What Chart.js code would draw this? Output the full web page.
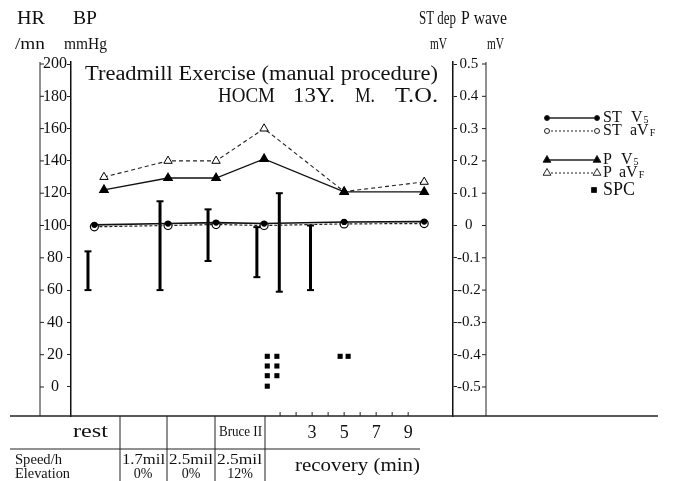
<!DOCTYPE html>
<html>
<head>
<meta charset="utf-8">
<script src="https://cdn.jsdelivr.net/npm/chart.js@4.4.0/dist/chart.umd.min.js"></script>
<style>
  html, body { margin: 0; padding: 0; background: #fff; }
  canvas { display: block; }
</style>
</head>
<body>
<canvas id="c" width="675" height="481" style="width:675px;height:481px"></canvas>
<script>
// time axis in minutes from start of exercise; recovery starts at 9 min
const exerciseEnd = 9;

// ST depression (mV)
const stTime = [-1.6, 3, 6, 9, 14, 19];
const stV5 = [0.002, 0.006, 0.009, 0.006, 0.011, 0.012];
const stAVF = [-0.004, 0, 0.003, 0, 0.005, 0.006];

// P wave (mV)
const pTime = [-1, 3, 6, 9, 14, 19];
const pV5 = [0.11, 0.147, 0.147, 0.206, 0.104, 0.104];
const pAVF = [0.15, 0.2, 0.2, 0.3, 0.105, 0.135];

// blood pressure ranges (mmHg)
const bpTime = [-2, 2.5, 5.5, 8.55, 9.95, 11.9];
const bpLow = [60, 60, 78, 68, 59, 60];
const bpHigh = [84, 115, 110, 99, 120, 100];

// SPC beats, stacked marks
const spcTime = [9.2, 9.2, 9.2, 9.2, 9.8, 9.8, 9.8, 13.75, 14.25];
const spcLevel = [19, 13, 7, 0.5, 19, 13, 7, 19, 19];

const leftTicks = [0, 20, 40, 60, 80, 100, 120, 140, 160, 180, 200];
const rightTicks = [-0.5, -0.4, -0.3, -0.2, -0.1, 0, 0.1, 0.2, 0.3, 0.4, 0.5];
const recMinutes = [1, 2, 3, 4, 5, 6, 7, 8, 9];
const recLabels = [3, 5, 7, 9];

const serif = '"Liberation Serif", "DejaVu Serif", serif';
Chart.defaults.font.family = serif;
Chart.defaults.color = '#111';

const xy = (xs, ys) => xs.map((x, i) => ({ x: x, y: ys[i] }));

const bpData = [];
bpTime.forEach((t, i) => {
  bpData.push({ x: t, y: bpLow[i] }, { x: t, y: bpHigh[i] }, { x: t, y: null });
});

// draws text, optionally squeezed to width w; returns drawn width
function txt(ctx, s, x, y, size, w, align) {
  ctx.save();
  ctx.font = size + 'px ' + serif;
  ctx.textBaseline = 'middle';
  ctx.textAlign = align || 'left';
  const m = ctx.measureText(s).width;
  ctx.translate(x, y);
  if (w) ctx.scale(w / m, 1);
  ctx.fillStyle = '#111';
  ctx.fillText(s, 0, 0);
  ctx.restore();
  return w || m;
}

function line(ctx, x1, y1, x2, y2, w) {
  ctx.beginPath();
  ctx.moveTo(x1, y1);
  ctx.lineTo(x2, y2);
  ctx.lineWidth = w || 1;
  ctx.stroke();
}

function marker(ctx, style, x, y, r, filled) {
  ctx.beginPath();
  if (style === 'circle') ctx.arc(x, y, r, 0, Math.PI * 2);
  else if (style === 'triangle') {
    ctx.moveTo(x, y - r);
    ctx.lineTo(x + r * 0.866, y + r * 0.5);
    ctx.lineTo(x - r * 0.866, y + r * 0.5);
    ctx.closePath();
  } else ctx.rect(x - r, y - r, 2 * r, 2 * r);
  ctx.fillStyle = filled ? '#000' : '#fff';
  ctx.fill();
  ctx.setLineDash([]);
  ctx.lineWidth = 1;
  ctx.stroke();
}

const decor = {
  id: 'decor',
  afterDraw(chart) {
    const ctx = chart.ctx;
    const yl = chart.scales.y, xs = chart.scales.x;
    const top = chart.chartArea.top, bottom = chart.chartArea.bottom;
    ctx.save();
    ctx.strokeStyle = '#222';

    // outer HR axis and P wave axis
    line(ctx, 40, top, 40, bottom, 1);
    line(ctx, 486, top, 486, bottom, 1);
    leftTicks.forEach(v => {
      const py = yl.getPixelForValue(v);
      line(ctx, 40, py, 44, py, 1);
      line(ctx, 482, py, 486, py, 1);
    });

    // recovery minute ticks
    recMinutes.forEach(m => {
      const px = xs.getPixelForValue(exerciseEnd + m);
      line(ctx, px, bottom - 4, px, bottom, 1);
    });

    // base line and table
    line(ctx, 10, bottom, 658, bottom, 1.5);
    line(ctx, 10, 449, 420, 449, 1);
    [120, 167, 215, 265].forEach(x => line(ctx, x, bottom, x, 481, 1));

    txt(ctx, 'rest', 73, 432, 19, 35);
    txt(ctx, 'Bruce II', 219, 432, 14, 43);
    txt(ctx, 'Speed/h', 15, 460, 14, 47);
    txt(ctx, 'Elevation', 15, 474, 14, 55);
    txt(ctx, '1.7mil', 122, 460, 14, 43);
    txt(ctx, '0%', 143, 474, 14, null, 'center');
    txt(ctx, '2.5mil', 169, 460, 14, 44);
    txt(ctx, '0%', 191, 474, 14, null, 'center');
    txt(ctx, '2.5mil', 217, 460, 14, 45);
    txt(ctx, '12%', 240, 474, 14, null, 'center');
    txt(ctx, 'recovery (min)', 295, 466, 19, 125);

    // axis headers
    txt(ctx, 'HR', 17, 19, 19, 28);
    txt(ctx, 'BP', 73, 19, 19, 24);
    txt(ctx, '/mn', 15, 45, 16, 30);
    txt(ctx, 'mmHg', 64, 45, 16, 43);
    txt(ctx, 'ST dep', 419, 19, 19, 37);
    txt(ctx, 'P wave', 461, 19, 19, 46);
    txt(ctx, 'mV', 430, 45, 17, 17);
    txt(ctx, 'mV', 487, 45, 17, 17);

    // title
    txt(ctx, 'Treadmill Exercise (manual procedure)', 85, 75, 20, 353);
    txt(ctx, 'HOCM', 218, 97, 20, 57);
    txt(ctx, '13Y.', 293, 97, 20, 42);
    txt(ctx, 'M.', 355, 97, 20, 20);
    txt(ctx, 'T.O.', 395, 97, 20, 43);

    // legend
    const items = [
      { y: 118, dash: [], style: 'circle', r: 2.5, filled: true, a: 'ST', b: 'V', bx: 631, sub: '5' },
      { y: 131, dash: [2, 2], style: 'circle', r: 2.5, filled: false, a: 'ST', b: 'aV', bx: 630, sub: 'F' },
      { y: 160, dash: [], style: 'triangle', r: 4.5, filled: true, a: 'P', b: 'V', bx: 621, sub: '5' },
      { y: 173, dash: [2, 2], style: 'triangle', r: 4.5, filled: false, a: 'P', b: 'aV', bx: 619, sub: 'F' }
    ];
    items.forEach(it => {
      ctx.setLineDash(it.dash);
      line(ctx, 547, it.y, 597, it.y, it.dash.length ? 1 : 1.5);
      marker(ctx, it.style, 547, it.y, it.r, it.filled);
      marker(ctx, it.style, 597, it.y, it.r, it.filled);
      txt(ctx, it.a, 603, it.y, 16);
      const bw = txt(ctx, it.b, it.bx, it.y, 16);
      txt(ctx, it.sub, it.bx + bw + 1, it.y + 2, 10);
    });
    marker(ctx, 'rect', 594, 190, 2.5, true);
    txt(ctx, 'SPC', 603, 190, 19, 32);

    ctx.restore();
  }
};

new Chart(document.getElementById('c'), {
  type: 'line',
  data: {
    datasets: [
      {
        label: 'ST V5', yAxisID: 'yST', data: xy(stTime, stV5),
        borderColor: '#111', borderWidth: 1.6,
        pointStyle: 'circle', pointRadius: 2.3, pointBackgroundColor: '#000', pointBorderColor: '#000'
      },
      {
        label: 'ST aVF', yAxisID: 'yST', data: xy(stTime, stAVF),
        borderColor: '#222', borderWidth: 1.2, borderDash: [3, 2],
        pointStyle: 'circle', pointRadius: 4, pointBackgroundColor: '#fff', pointBorderColor: '#000', pointBorderWidth: 1.2
      },
      {
        label: 'P V5', yAxisID: 'yST', data: xy(pTime, pV5),
        borderColor: '#111', borderWidth: 1.3,
        pointStyle: 'triangle', pointRadius: 4.8, pointBackgroundColor: '#000', pointBorderColor: '#000'
      },
      {
        label: 'P aVF', yAxisID: 'yST', data: xy(pTime, pAVF),
        borderColor: '#222', borderWidth: 1.1, borderDash: [4, 3],
        pointStyle: 'triangle', pointRadius: 4.8, pointBackgroundColor: '#fff', pointBorderColor: '#000', pointBorderWidth: 1
      },
      {
        label: 'BP', yAxisID: 'y', data: bpData,
        borderColor: '#000', borderWidth: 3, borderCapStyle: 'butt', spanGaps: false,
        pointStyle: 'line', pointRadius: 3.5, pointBorderWidth: 2, pointBorderColor: '#000'
      },
      {
        label: 'SPC', yAxisID: 'y', data: xy(spcTime, spcLevel), showLine: false,
        pointStyle: 'rect', pointRadius: 3.6, pointBackgroundColor: '#000', pointBorderColor: '#000', pointBorderWidth: 0
      }
    ]
  },
  options: {
    responsive: false,
    animation: false,
    layout: { padding: { left: 40, right: 189, top: 62, bottom: 35 } },
    plugins: { legend: { display: false }, tooltip: { enabled: false } },
    scales: {
      x: {
        type: 'linear', min: -3.06, max: 20.8,
        grid: { display: false, drawTicks: false },
        border: { display: false },
        afterBuildTicks: s => { s.ticks = recLabels.map(m => ({ value: exerciseEnd + m })); },
        afterFit: s => { s.height = 30; },
        ticks: { font: { size: 18 }, padding: 6, maxRotation: 0, callback: v => String(v - exerciseEnd) }
      },
      y: {
        position: 'left', min: -17.96, max: 201.24,
        afterBuildTicks: s => { s.ticks = leftTicks.map(v => ({ value: v })); },
        afterFit: s => { s.width = 31; },
        grid: { drawOnChartArea: false, tickLength: 4, color: '#222' },
        border: { color: '#111', width: 1.5 },
        ticks: { font: { size: 16 }, crossAlign: 'center', padding: 0 }
      },
      yST: {
        position: 'right', min: -0.5898, max: 0.5062,
        afterBuildTicks: s => { s.ticks = rightTicks.map(v => ({ value: v })); },
        afterFit: s => { s.width = 33; },
        grid: { drawOnChartArea: false, tickLength: 4, color: '#222' },
        border: { color: '#111', width: 1.5 },
        ticks: { font: { size: 15 }, crossAlign: 'center', padding: 0, callback: v => (v === 0 ? '0' : v.toFixed(1)) }
      }
    }
  },
  plugins: [decor]
});
</script>
</body>
</html>
